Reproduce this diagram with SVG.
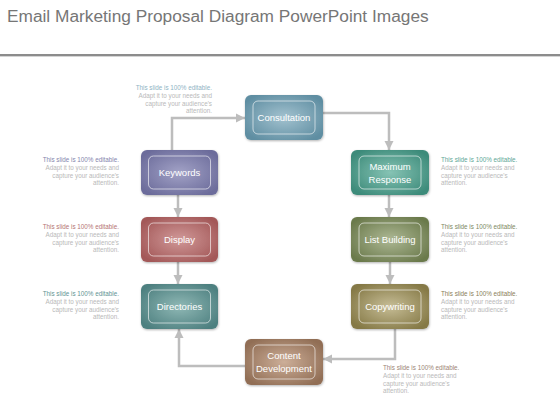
<svg xmlns="http://www.w3.org/2000/svg" width="560" height="420" viewBox="0 0 560 420">
<style>
.title{font-family:"Liberation Sans",Arial,sans-serif;font-size:17.3px;fill:#767676}
.lbl{font-family:"Liberation Sans",Arial,sans-serif;font-size:9.5px;fill:#ffffff;text-anchor:middle}
.note{font-family:"Liberation Sans",Arial,sans-serif;font-size:6.3px;fill:#b9b9b9}
.r{text-anchor:end}
.inner{fill:none;stroke:#ffffff;stroke-opacity:0.6;stroke-width:1}
.conn{fill:none;stroke:#bdbdbd;stroke-width:2.5}
</style>
<defs>
<filter id="sh" x="-20%" y="-20%" width="140%" height="140%">
<feDropShadow dx="0.5" dy="1" stdDeviation="1.2" flood-color="#000" flood-opacity="0.3"/>
</filter>
<marker id="ah" viewBox="0 0 10 10" refX="10" refY="5" markerWidth="9" markerHeight="10" markerUnits="userSpaceOnUse" orient="auto">
<path d="M0,0 L10,5 L0,10 Z" fill="#bdbdbd"/>
</marker>
<radialGradient id="gCon" cx="50%" cy="50%" r="60%"><stop offset="0" stop-color="#a3c2cf"/><stop offset="1" stop-color="#5f8ea2"/></radialGradient>
<radialGradient id="gKey" cx="50%" cy="50%" r="60%"><stop offset="0" stop-color="#a2a2c6"/><stop offset="1" stop-color="#6c6c9b"/></radialGradient>
<radialGradient id="gDis" cx="50%" cy="50%" r="60%"><stop offset="0" stop-color="#d09898"/><stop offset="1" stop-color="#a35858"/></radialGradient>
<radialGradient id="gDir" cx="50%" cy="50%" r="60%"><stop offset="0" stop-color="#8fb8b5"/><stop offset="1" stop-color="#4e8080"/></radialGradient>
<radialGradient id="gMax" cx="50%" cy="50%" r="60%"><stop offset="0" stop-color="#86c3b4"/><stop offset="1" stop-color="#3d8b7a"/></radialGradient>
<radialGradient id="gLis" cx="50%" cy="50%" r="60%"><stop offset="0" stop-color="#adb894"/><stop offset="1" stop-color="#6b7a4c"/></radialGradient>
<radialGradient id="gCop" cx="50%" cy="50%" r="60%"><stop offset="0" stop-color="#c6bd96"/><stop offset="1" stop-color="#857946"/></radialGradient>
<radialGradient id="gCnt" cx="50%" cy="50%" r="60%"><stop offset="0" stop-color="#ccae98"/><stop offset="1" stop-color="#916e55"/></radialGradient>
</defs>
<rect width="560" height="420" fill="#ffffff"/>
<text class="title" x="7" y="22">Email Marketing Proposal Diagram PowerPoint Images</text>
<rect x="0" y="54" width="560" height="2" fill="#8c8c8c"/>
<rect x="0" y="56" width="560" height="1" fill="#d4d4d4"/>

<g id="connectors">
<path class="conn" d="M172,150 V118 H245" marker-end="url(#ah)"/>
<path class="conn" d="M323,113 H389 V150" marker-end="url(#ah)"/>
<path class="conn" d="M178,195 V217" marker-end="url(#ah)"/>
<path class="conn" d="M178,262 V284" marker-end="url(#ah)"/>
<path class="conn" d="M389,195 V217" marker-end="url(#ah)"/>
<path class="conn" d="M390,262 V284" marker-end="url(#ah)"/>
<path class="conn" d="M395,329 V359 H323" marker-end="url(#ah)"/>
<path class="conn" d="M245,366 H179 V329" marker-end="url(#ah)"/>
</g>

<g id="consultation">
<rect x="245" y="95" width="78" height="45" rx="6" fill="url(#gCon)" filter="url(#sh)"/>
<rect class="inner" x="253" y="101" width="62" height="33" rx="5"/>
<text class="lbl" x="284" y="121">Consultation</text>
</g>
<g id="keywords">
<rect x="141" y="150" width="77" height="45" rx="6" fill="url(#gKey)" filter="url(#sh)"/>
<rect class="inner" x="148.5" y="156" width="62" height="33" rx="5"/>
<text class="lbl" x="179.5" y="176">Keywords</text>
</g>
<g id="display">
<rect x="141" y="217" width="77" height="45" rx="6" fill="url(#gDis)" filter="url(#sh)"/>
<rect class="inner" x="148.5" y="223" width="62" height="33" rx="5"/>
<text class="lbl" x="179.5" y="243">Display</text>
</g>
<g id="directories">
<rect x="141" y="284" width="77" height="45" rx="6" fill="url(#gDir)" filter="url(#sh)"/>
<rect class="inner" x="148.5" y="290" width="62" height="33" rx="5"/>
<text class="lbl" x="179.5" y="310">Directories</text>
</g>
<g id="maximum-response">
<rect x="351" y="150" width="78" height="45" rx="6" fill="url(#gMax)" filter="url(#sh)"/>
<rect class="inner" x="359" y="156" width="62" height="33" rx="5"/>
<text class="lbl" x="390" y="170">Maximum</text>
<text class="lbl" x="390" y="183">Response</text>
</g>
<g id="list-building">
<rect x="351" y="217" width="78" height="45" rx="6" fill="url(#gLis)" filter="url(#sh)"/>
<rect class="inner" x="359" y="223" width="62" height="33" rx="5"/>
<text class="lbl" x="390" y="243">List Building</text>
</g>
<g id="copywriting">
<rect x="351" y="284" width="78" height="45" rx="6" fill="url(#gCop)" filter="url(#sh)"/>
<rect class="inner" x="359" y="290" width="62" height="33" rx="5"/>
<text class="lbl" x="390" y="310">Copywriting</text>
</g>
<g id="content-development">
<rect x="245" y="339" width="78" height="46" rx="6" fill="url(#gCnt)" filter="url(#sh)"/>
<rect class="inner" x="253" y="345" width="62" height="34" rx="5"/>
<text class="lbl" x="284" y="359">Content</text>
<text class="lbl" x="284" y="372">Development</text>
</g>

<g id="notes">
<g class="note r">
<text x="212" y="90" style="fill:#8fb3c4">This slide is 100% editable.</text>
<text x="212" y="97.8">Adapt it to your needs and</text>
<text x="212" y="105.6">capture your audience's</text>
<text x="212" y="113.4">attention.</text>
</g>
<g class="note r">
<text x="119" y="162" style="fill:#8585ad">This slide is 100% editable.</text>
<text x="119" y="169.8">Adapt it to your needs and</text>
<text x="119" y="177.6">capture your audience's</text>
<text x="119" y="185.4">attention.</text>
</g>
<g class="note r">
<text x="119" y="229" style="fill:#b57474">This slide is 100% editable.</text>
<text x="119" y="236.8">Adapt it to your needs and</text>
<text x="119" y="244.6">capture your audience's</text>
<text x="119" y="252.4">attention.</text>
</g>
<g class="note r">
<text x="119" y="296" style="fill:#5f9393">This slide is 100% editable.</text>
<text x="119" y="303.8">Adapt it to your needs and</text>
<text x="119" y="311.6">capture your audience's</text>
<text x="119" y="319.4">attention.</text>
</g>
<g class="note">
<text x="441" y="162" style="fill:#5ea796">This slide is 100% editable.</text>
<text x="441" y="169.8">Adapt it to your needs and</text>
<text x="441" y="177.6">capture your audience's</text>
<text x="441" y="185.4">attention.</text>
</g>
<g class="note">
<text x="441" y="229" style="fill:#7c8861">This slide is 100% editable.</text>
<text x="441" y="236.8">Adapt it to your needs and</text>
<text x="441" y="244.6">capture your audience's</text>
<text x="441" y="252.4">attention.</text>
</g>
<g class="note">
<text x="441" y="296" style="fill:#8a8058">This slide is 100% editable.</text>
<text x="441" y="303.8">Adapt it to your needs and</text>
<text x="441" y="311.6">capture your audience's</text>
<text x="441" y="319.4">attention.</text>
</g>
<g class="note">
<text x="383" y="370" style="fill:#9c8575">This slide is 100% editable.</text>
<text x="383" y="377.8">Adapt it to your needs and</text>
<text x="383" y="385.6">capture your audience's</text>
<text x="383" y="393.4">attention.</text>
</g>
</g>
</svg>
